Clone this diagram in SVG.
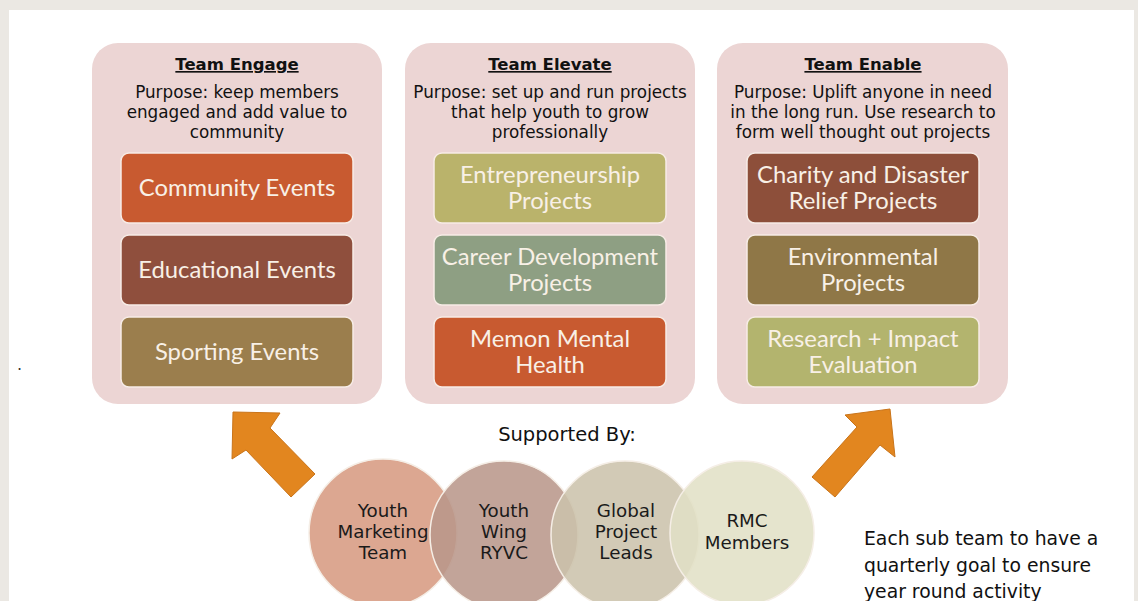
<svg xmlns="http://www.w3.org/2000/svg" width="1138" height="601" viewBox="0 0 1138 601">
<defs>
<style>
.panel{fill:#ecd5d4;}
.box{stroke:#f7ece6;stroke-width:1.5;}
.title{font-family:"DejaVu Sans",sans-serif;font-size:16.5px;font-weight:bold;fill:#111;text-anchor:middle;text-decoration:underline;}
.purp{font-family:"DejaVu Sans",sans-serif;font-size:16.8px;fill:#111;text-anchor:middle;}
.lbl{font-family:Lato,"Liberation Sans",sans-serif;font-size:23.8px;fill:#f8f0e6;text-anchor:middle;}
.cl{font-family:"DejaVu Sans",sans-serif;font-size:18.3px;fill:#1a1a1a;text-anchor:middle;}
.note{font-family:"DejaVu Sans",sans-serif;font-size:18.8px;fill:#111;}
.arr{fill:#e2861f;stroke:#c9741a;stroke-width:1;}
.circ{stroke:#f5eee6;stroke-width:1.5;}
</style>
</defs>
<rect x="0" y="0" width="1138" height="601" fill="#ebe8e3"/>
<rect x="9" y="10" width="1125" height="600" fill="#ffffff"/>
<text x="17" y="370" style="font-family:'DejaVu Sans',sans-serif;font-size:16px;fill:#333">.</text>

<g id="team-engage">
<rect class="panel" x="92" y="43" width="290" height="361" rx="26"/>
<text class="title" x="237" y="70">Team Engage</text>
<text class="purp" x="237" y="98">Purpose: keep members</text>
<text class="purp" x="237" y="118">engaged and add value to</text>
<text class="purp" x="237" y="138">community</text>
<rect class="box" x="121" y="153" width="232" height="70" rx="8" fill="#c85a30"/>
<text class="lbl" x="237" y="196">Community Events</text>
<rect class="box" x="121" y="235" width="232" height="70" rx="8" fill="#8f4f3d"/>
<text class="lbl" x="237" y="278">Educational Events</text>
<rect class="box" x="121" y="317" width="232" height="70" rx="8" fill="#9b7e4d"/>
<text class="lbl" x="237" y="360">Sporting Events</text>
</g>

<g id="team-elevate">
<rect class="panel" x="405" y="43" width="290" height="361" rx="26"/>
<text class="title" x="550" y="70">Team Elevate</text>
<text class="purp" x="550" y="98">Purpose: set up and run projects</text>
<text class="purp" x="550" y="118">that help youth to grow</text>
<text class="purp" x="550" y="138">professionally</text>
<rect class="box" x="434" y="153" width="232" height="70" rx="8" fill="#bab36b"/>
<text class="lbl" x="550" y="183">Entrepreneurship</text>
<text class="lbl" x="550" y="209">Projects</text>
<rect class="box" x="434" y="235" width="232" height="70" rx="8" fill="#8e9f83"/>
<text class="lbl" x="550" y="265">Career Development</text>
<text class="lbl" x="550" y="291">Projects</text>
<rect class="box" x="434" y="317" width="232" height="70" rx="8" fill="#c85a30"/>
<text class="lbl" x="550" y="347">Memon Mental</text>
<text class="lbl" x="550" y="373">Health</text>
</g>

<g id="team-enable">
<rect class="panel" x="717" y="43" width="291" height="361" rx="26"/>
<text class="title" x="863" y="70">Team Enable</text>
<text class="purp" x="863" y="98">Purpose: Uplift anyone in need</text>
<text class="purp" x="863" y="118">in the long run. Use research to</text>
<text class="purp" x="863" y="138">form well thought out projects</text>
<rect class="box" x="747" y="153" width="232" height="70" rx="8" fill="#8d4f3a"/>
<text class="lbl" x="863" y="183">Charity and Disaster</text>
<text class="lbl" x="863" y="209">Relief Projects</text>
<rect class="box" x="747" y="235" width="232" height="70" rx="8" fill="#8f7747"/>
<text class="lbl" x="863" y="265">Environmental</text>
<text class="lbl" x="863" y="291">Projects</text>
<rect class="box" x="747" y="317" width="232" height="70" rx="8" fill="#b3b46e"/>
<text class="lbl" x="863" y="347">Research + Impact</text>
<text class="lbl" x="863" y="373">Evaluation</text>
</g>

<g id="connectors">
<polygon class="arr" points="233,412 280,413 270,428 315,474 291,497 246,450 232,459"/>
<polygon class="arr" points="890,409 895,457 880,445 835,497 812,477 857,427 845,415"/>
</g>

<text x="567" y="441" style="font-family:'DejaVu Sans',sans-serif;font-size:19.5px;fill:#111;text-anchor:middle">Supported By:</text>

<g id="supporters">
<g id="youth-marketing">
<circle class="circ" cx="383" cy="533" r="74" fill="#d99f88" fill-opacity="0.92"/>
</g>
<g id="youth-wing">
<circle class="circ" cx="504" cy="535" r="74" fill="#b9978a" fill-opacity="0.87"/>
</g>
<g id="global-leads">
<circle class="circ" cx="625" cy="535" r="74" fill="#cbc2ab" fill-opacity="0.87"/>
</g>
<g id="rmc">
<circle class="circ" cx="742" cy="533" r="72" fill="#e1e0c6" fill-opacity="0.87"/>
</g>
<text class="cl" x="383" y="517">Youth</text>
<text class="cl" x="383" y="538">Marketing</text>
<text class="cl" x="383" y="559">Team</text>
<text class="cl" x="504" y="517">Youth</text>
<text class="cl" x="504" y="538">Wing</text>
<text class="cl" x="504" y="559">RYVC</text>
<text class="cl" x="626" y="517">Global</text>
<text class="cl" x="626" y="538">Project</text>
<text class="cl" x="626" y="559">Leads</text>
<text class="cl" x="747" y="527">RMC</text>
<text class="cl" x="747" y="549">Members</text>
</g>

<text class="note" x="864" y="545">Each sub team to have a</text>
<text class="note" x="864" y="572">quarterly goal to ensure</text>
<text class="note" x="864" y="598">year round activity</text>
</svg>
